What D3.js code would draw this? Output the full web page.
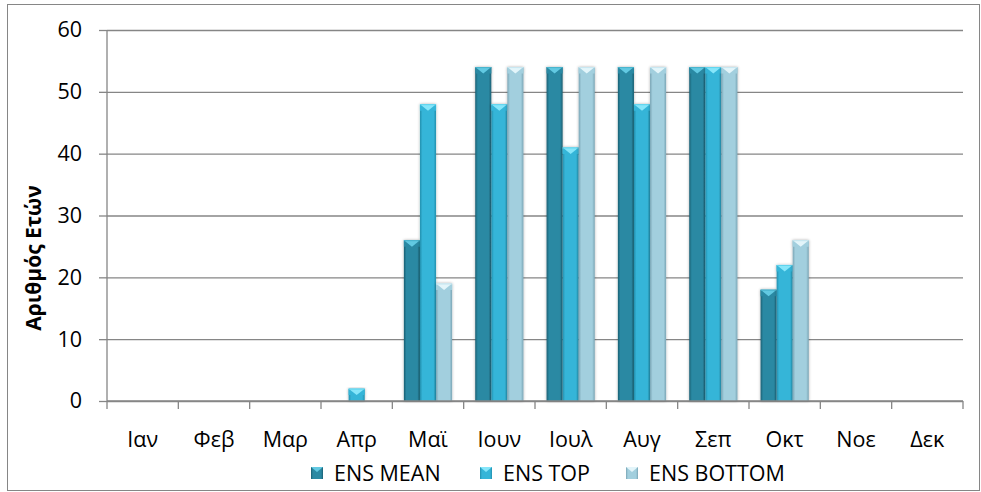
<!DOCTYPE html>
<html>
<head>
<meta charset="utf-8">
<script src="https://cdn.jsdelivr.net/npm/d3@7"></script>
<style>
  html, body { margin: 0; padding: 0; background: #fff; }
  svg { display: block; }
  text { font-family: "Open Sans", "Noto Sans", sans-serif; fill: #000; }
</style>
</head>
<body>
<svg id="chart" width="981" height="492"></svg>
<script>
// Months and the three ensemble series (number of years)
const months = ["Ιαν", "Φεβ", "Μαρ", "Απρ", "Μαϊ", "Ιουν", "Ιουλ", "Αυγ", "Σεπ", "Οκτ", "Νοε", "Δεκ"];
const seriesNames = ["ENS MEAN", "ENS TOP", "ENS BOTTOM"];
const ensMean   = [0, 0, 0, 0, 26, 54, 54, 54, 54, 18, 0, 0];
const ensTop    = [0, 0, 0, 2, 48, 48, 41, 48, 54, 22, 0, 0];
const ensBottom = [0, 0, 0, 0, 19, 54, 54, 54, 54, 26, 0, 0];
const yTicks = [0, 10, 20, 30, 40, 50, 60];
const yTitle = "Αριθμός Ετών";

const seriesValues = [ensMean, ensTop, ensBottom];
const palette = [
  { edge: "#1b5f73", mid: "#2a89a3", cap: "#47b3cc", capHi: "#62c9e2" },
  { edge: "#2390ae", mid: "#35b5d8", cap: "#5fd4ee", capHi: "#86e6fa" },
  { edge: "#7aa5b5", mid: "#a2cfde", cap: "#c6e6f0", capHi: "#e3f5fa" }
];
const FS = 21.5;

const svg = d3.select("#chart");
const W = 981, H = 492;
const m = { left: 107, right: 18, top: 30, bottom: 91 };

// chart area frame
svg.append("rect")
  .attr("x", 7.5).attr("y", 4.5)
  .attr("width", W - 9).attr("height", H - 6)
  .attr("fill", "none").attr("stroke", "#868686").attr("stroke-width", 1);

const x = d3.scaleBand().domain(months).range([m.left, W - m.right]).paddingInner(0).paddingOuter(0);
const y = d3.scaleLinear().domain([0, 60]).range([H - m.bottom, m.top]);
const xs = d3.scaleBand().domain(d3.range(3)).range([0, x.bandwidth()]).paddingOuter(0.72).paddingInner(0);

const defs = svg.append("defs");
palette.forEach((c, i) => {
  const g = defs.append("linearGradient").attr("id", "bar" + i)
    .attr("x1", "0").attr("x2", "1").attr("y1", "0").attr("y2", "0");
  g.append("stop").attr("offset", "0%").attr("stop-color", c.edge);
  g.append("stop").attr("offset", "16%").attr("stop-color", c.mid);
  g.append("stop").attr("offset", "84%").attr("stop-color", c.mid);
  g.append("stop").attr("offset", "100%").attr("stop-color", c.edge);
});
const shadow = defs.append("filter").attr("id", "shadow")
  .attr("x", "-30%").attr("y", "-10%").attr("width", "160%").attr("height", "120%");
shadow.append("feGaussianBlur").attr("in", "SourceAlpha").attr("stdDeviation", 1.6).attr("result", "b");
shadow.append("feComponentTransfer").attr("in", "b").attr("result", "s")
  .append("feFuncA").attr("type", "linear").attr("slope", 0.3);
const merge = shadow.append("feMerge");
merge.append("feMergeNode").attr("in", "s");
merge.append("feMergeNode").attr("in", "SourceGraphic");

// horizontal gridlines and value labels
const yAxis = d3.axisLeft(y).tickValues(yTicks).tickSize(-(W - m.right - m.left)).tickPadding(14);
const gy = svg.append("g").attr("transform", `translate(${m.left},0)`).call(yAxis);
gy.select(".domain").remove();
gy.selectAll(".tick line").attr("stroke", "#868686").attr("stroke-width", 1.3);
gy.selectAll(".tick text").attr("font-size", FS).attr("x", -25).attr("fill", "#000")
  .style("font-family", '"Open Sans", sans-serif');
// short outer tick marks left of the axis
gy.selectAll(".tick").append("line")
  .attr("x1", -8).attr("x2", 0).attr("stroke", "#868686").attr("stroke-width", 1.3);

// bars
const bars = [];
months.forEach((mo, i) => {
  seriesValues.forEach((vals, s) => {
    if (vals[i] > 0) bars.push({ month: mo, s, v: vals[i] });
  });
});

const gb = svg.append("g");
const barG = gb.selectAll("g.bar").data(bars).join("g").attr("class", "bar")
  .attr("filter", "url(#shadow)");
barG.each(function (d) {
  const g = d3.select(this);
  const bx = x(d.month) + xs(d.s);
  const bw = xs.bandwidth();
  const top = y(d.v), base = y(0);
  const c = palette[d.s];
  g.append("rect").attr("x", bx).attr("y", top).attr("width", bw).attr("height", base - top)
    .attr("fill", `url(#bar${d.s})`);
  const capH = Math.min(bw * 0.4, base - top);
  // bevelled top: light downward triangle between two side facets
  g.append("path")
    .attr("d", `M${bx},${top}L${bx + bw / 2},${top + capH}L${bx},${top + capH}Z`)
    .attr("fill", c.mid);
  g.append("path")
    .attr("d", `M${bx + bw},${top}L${bx + bw / 2},${top + capH}L${bx + bw},${top + capH}Z`)
    .attr("fill", c.mid);
  g.append("path")
    .attr("d", `M${bx},${top}L${bx + bw},${top}L${bx + bw / 2},${top + capH}Z`)
    .attr("fill", c.capHi);
  g.append("line").attr("x1", bx).attr("x2", bx + bw).attr("y1", top + 0.5).attr("y2", top + 0.5)
    .attr("stroke", c.cap).attr("stroke-width", 1);
});

// x axis
const gx = svg.append("g").attr("transform", `translate(0,${y(0)})`);
gx.append("line").attr("x1", m.left).attr("x2", W - m.right).attr("stroke", "#868686").attr("stroke-width", 1.6);
const edges = months.map(mo => x(mo)).concat([x(months[months.length - 1]) + x.bandwidth()]);
gx.selectAll("line.tick").data(edges).join("line").attr("class", "tick")
  .attr("x1", d => d).attr("x2", d => d).attr("y1", 0).attr("y2", 8)
  .attr("stroke", "#868686").attr("stroke-width", 1.3);
gx.selectAll("text").data(months).join("text")
  .attr("x", d => x(d) + x.bandwidth() / 2).attr("y", 46)
  .attr("text-anchor", "middle").attr("font-size", FS).text(d => d);

// vertical axis line
svg.append("line").attr("x1", m.left).attr("x2", m.left).attr("y1", y(60)).attr("y2", y(0))
  .attr("stroke", "#868686").attr("stroke-width", 1.3);

// y axis title
svg.append("text")
  .attr("transform", `translate(41,258) rotate(-90)`)
  .attr("text-anchor", "middle").attr("font-size", 21).attr("font-weight", "bold")
  .text(yTitle);

// legend
const legendX = [311, 480, 626];
const lg = svg.append("g").selectAll("g").data(seriesNames).join("g")
  .attr("transform", (d, i) => `translate(${legendX[i]},473)`);
lg.append("rect").attr("x", 0).attr("y", -6).attr("width", 12).attr("height", 12)
  .attr("fill", (d, i) => `url(#bar${i})`);
lg.append("path").attr("d", "M0,-6L12,-6L6,-1Z").attr("fill", (d, i) => palette[i].capHi);
lg.append("text").attr("x", 23).attr("y", 0).attr("dy", "0.35em").attr("font-size", FS).text(d => d);
</script>
</body>
</html>
